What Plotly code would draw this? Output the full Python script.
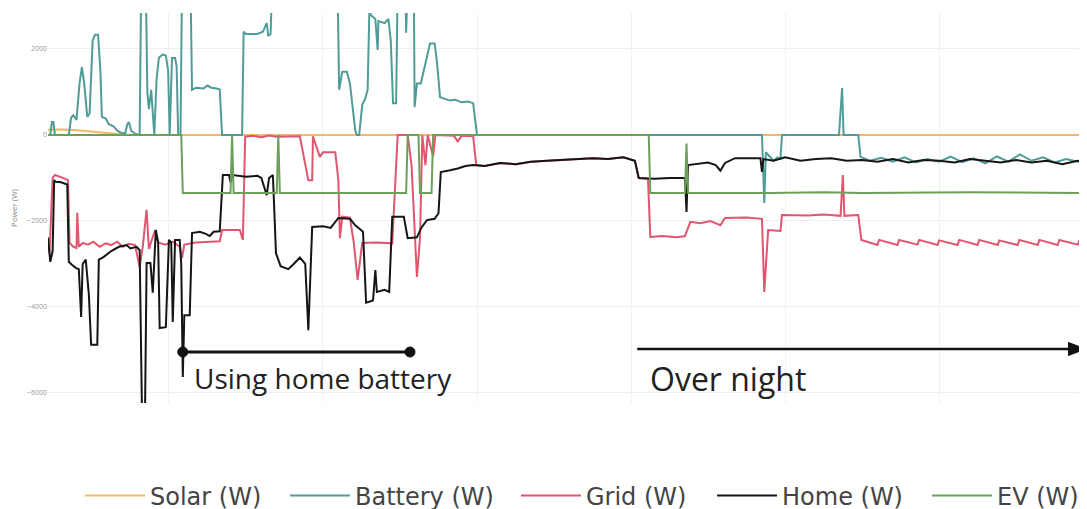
import plotly.graph_objects as go

# hours since midnight (values past 24 are the next morning), power in W
solar_h = [14.43, 14.6, 14.8, 15.0, 15.3, 15.5, 27.92]
solar_w = [120, 130, 110, 80, 30, 0, 0]

battery_h = [14.43, 14.46, 14.48, 14.50, 14.52, 14.70, 14.73, 14.76, 14.80, 14.84, 14.87, 14.90,
             14.94, 14.97, 15.01, 15.04, 15.08, 15.11, 15.13, 15.18, 15.22, 15.28, 15.33, 15.38,
             15.43, 15.46, 15.48, 15.51, 15.56, 15.62, 15.64, 15.70, 15.72, 15.74, 15.77, 15.81,
             15.84, 15.87, 15.92, 15.96, 15.99, 16.01, 16.04, 16.08, 16.10, 16.12, 16.15, 16.17,
             16.28, 16.30, 16.35, 16.45, 16.50, 16.55, 16.62, 16.66, 16.69, 16.95, 16.97, 17.00,
             17.15, 17.22, 17.27, 17.29, 17.32, 17.34, 18.19, 18.21, 18.25, 18.31, 18.35, 18.42,
             18.44, 18.47, 18.51, 18.55, 18.58, 18.61, 18.62, 18.68, 18.71, 18.72, 18.80, 18.85,
             18.88, 18.91, 18.95, 18.97, 19.07, 19.08, 19.10, 19.18, 19.19, 19.22, 19.27, 19.33,
             19.39, 19.45, 19.48, 19.52, 19.56, 19.65, 19.72, 19.80, 19.88, 19.95, 20.0, 23.70,
             23.73, 23.75, 23.80, 23.85, 23.90, 23.94, 23.96, 24.70, 24.74, 24.76, 24.95, 24.98,
             25.1, 25.25, 25.4, 25.55, 25.7, 25.85, 26.0, 26.15, 26.3, 26.45, 26.6, 26.75, 26.9,
             27.05, 27.2, 27.35, 27.5, 27.65, 27.8, 27.92]
battery_w = [0, 0, 300, 300, 0, 0, 400, 460, 350, 1210, 1580, 1200,
             420, 500, 2200, 2330, 2330, 1500, 420, 380, 250, 200, 100, 50,
             30, 250, 300, 100, 30, 0, 3500, 3500, 1000, 600, 1050, 0,
             1300, 1800, 1870, 1850, 1500, 0, 1790, 1790, 1600, 0, 0, 3500,
             3500, 1050, 1100, 1080, 1150, 1100, 1080, 1060, 0, 0, 2400, 2350,
             2350, 2400, 2600, 2300, 2350, 3500, 3500, 1050, 1470, 1470, 1200, 100,
             0, 0, 700, 850, 1050, 3500, 2790, 2700, 1980, 2650, 2600, 2700,
             2200, 740, 740, 3500, 3500, 2380, 3500, 3500, 650, 1200, 1200, 1650,
             2130, 2130, 1700, 880, 860, 800, 820, 760, 780, 740, 0, 0,
             -1580, -400, -500, -600, -520, -550, 0, 0, 1090, 0, 0, -510,
             -600, -530, -620, -520, -640, -560, -620, -500, -630, -540, -660, -500, -620,
             -450, -600, -520, -640, -560, -620, -600]

home_h = [14.43, 14.46, 14.49, 14.51, 14.53, 14.60, 14.68, 14.70, 14.74, 14.79, 14.83, 14.86,
          14.88, 14.92, 14.96, 14.99, 15.07, 15.09, 15.15, 15.25, 15.35, 15.45, 15.50, 15.58,
          15.62, 15.65, 15.69, 15.71, 15.76, 15.79, 15.83, 15.86, 15.88, 15.96, 16.00, 16.03,
          16.05, 16.08, 16.14, 16.16, 16.18, 16.20, 16.27, 16.30, 16.40, 16.48, 16.53, 16.58,
          16.66, 16.70, 16.78, 16.80, 16.83, 17.00, 17.15, 17.20, 17.27, 17.30, 17.35, 17.39,
          17.45, 17.55, 17.62, 17.70, 17.77, 17.81, 17.86, 18.00, 18.10, 18.20, 18.35, 18.42,
          18.52, 18.56, 18.65, 18.68, 18.70, 18.80, 18.86, 18.90, 19.05, 19.10, 19.22, 19.28,
          19.35, 19.45, 19.50, 19.53, 19.65, 19.75, 19.85, 19.95, 20.1, 20.3, 20.5, 20.7,
          20.9, 21.1, 21.3, 21.5, 21.7, 21.9, 22.05, 22.10, 22.30, 22.5, 22.70, 22.72,
          22.74, 22.85, 23.0, 23.10, 23.16, 23.22, 23.35, 23.55, 23.68, 23.70, 23.72, 23.85,
          24.0, 24.2, 24.4, 24.6, 24.8, 25.0, 25.2, 25.4, 25.6, 25.8, 26.0, 26.2,
          26.4, 26.6, 26.8, 27.0, 27.2, 27.4, 27.6, 27.8, 27.92]
home_w = [-2400, -2950, -2700, -1050, -1090, -1100, -1150, -2950, -3020, -3090, -3120, -4230,
          -3000, -2900, -3700, -4880, -4880, -2900, -2840, -2700, -2600, -2560, -2640, -2600,
          -2680, -6400, -6400, -2980, -2980, -3670, -2210, -2500, -4490, -4470, -2440, -2500,
          -4350, -2440, -2440, -3000, -5630, -4190, -4190, -2280, -2250, -2300, -2350, -2250,
          -2240, -930, -930, -1100, -930, -970, -950, -1000, -1400, -1000, -930, -2750,
          -3050, -3120, -3000, -2850, -3000, -4540, -2140, -2120, -2160, -1930, -1950, -2100,
          -2250, -3900, -3850, -3140, -3650, -3600, -3650, -1900, -1900, -2400, -2380, -2150,
          -1980, -1950, -1820, -860, -820, -780, -720, -700, -720, -650, -680, -620,
          -600, -580, -560, -540, -560, -520, -600, -1000, -1020, -1000, -1000, -1790,
          -700, -680, -640, -700, -830, -650, -540, -540, -540, -860, -560, -600,
          -520, -600, -560, -540, -600, -580, -620, -560, -640, -580, -600, -640,
          -560, -600, -640, -580, -640, -600, -680, -600, -620]

grid_h = [14.43, 14.45, 14.49, 14.52, 14.60, 14.69, 14.71, 14.76, 14.80, 14.81, 14.83, 14.88,
          14.95, 15.02, 15.10, 15.18, 15.25, 15.33, 15.40, 15.48, 15.56, 15.62, 15.66, 15.71,
          15.74, 15.82, 15.86, 15.95, 16.05, 16.14, 16.17, 16.20, 16.35, 16.50, 16.66, 16.69,
          16.92, 16.96, 16.99, 17.10, 17.20, 17.30, 17.40, 17.70, 17.81, 17.86, 17.87, 17.96,
          18.00, 18.16, 18.20, 18.22, 18.25, 18.35, 18.40, 18.45, 18.51, 18.70, 18.90, 18.97,
          19.10, 19.15, 19.20, 19.22, 19.26, 19.29, 19.33, 19.36, 19.43, 19.46, 19.70, 19.75,
          19.80, 19.95, 19.99, 20.1, 20.3, 20.5, 20.7, 20.9, 21.1, 21.3, 21.5, 21.7,
          21.9, 22.05, 22.10, 22.22, 22.25, 22.40, 22.60, 22.70, 22.73, 22.77, 22.90, 23.03,
          23.16, 23.22, 23.50, 23.70, 23.73, 23.78, 23.94, 23.96, 24.30, 24.50, 24.72, 24.75,
          24.77, 24.95, 24.99, 25.20, 25.22, 25.46, 25.48, 25.72, 25.74, 25.98, 26.00, 26.24,
          26.26, 26.50, 26.52, 26.76, 26.78, 27.02, 27.04, 27.28, 27.30, 27.54, 27.56, 27.80,
          27.82, 27.92]
grid_w = [-2370, -2750, -1000, -930, -980, -1050, -2510, -2600, -2630, -1810, -2600, -2510,
          -2550, -2480, -2600, -2520, -2560, -2480, -2600, -2530, -2560, -3070, -2600, -1740,
          -2650, -2210, -2500, -2550, -2480, -2600, -2860, -2550, -2500, -2480, -2470, -2210,
          -2210, -2440, -40, -20, -50, -10, -40, -30, -1050, -1050, -30, -510,
          -400, -400, -1050, -2400, -1900, -1920, -2500, -3370, -2510, -2500, -2520, 0,
          0, -700, -2400, -3300, -2400, 0, -700, 0, -500, 0, -20, -150,
          -20, -30, -700, -720, -650, -680, -620, -600, -580, -560, -540, -560,
          -520, -600, -1000, -1020, -2370, -2350, -2380, -2350, -2200, -2020, -2050, -2000,
          -2100, -1930, -1920, -1950, -3650, -2210, -2230, -1860, -1870, -1850, -1880, -930,
          -1880, -1860, -2440, -2560, -2440, -2560, -2440, -2550, -2440, -2560, -2450, -2560,
          -2440, -2560, -2440, -2560, -2450, -2560, -2440, -2560, -2440, -2560, -2440, -2550,
          -2460, -2500]

ev_h = [14.43, 16.16, 16.18, 16.80, 16.82, 16.84, 17.40, 17.42, 17.44, 19.08, 19.10, 19.24,
        19.26, 19.41, 19.43, 22.23, 22.25, 22.70, 22.72, 22.74, 23.8, 24.5, 25.0, 26.4, 27.92]
ev_w = [0, 0, -1350, -1350, 0, -1350, -1350, 0, -1350, -1350, 0, 0,
        -1350, -1350, 0, 0, -1350, -1350, -200, -1350, -1350, -1330, -1350, -1330, -1350]

series = [
    ("Solar (W)", solar_h, solar_w, "#F5B867"),
    ("Battery (W)", battery_h, battery_w, "#4F9C98"),
    ("Grid (W)", grid_h, grid_w, "#E0566E"),
    ("Home (W)", home_h, home_w, "#151515"),
    ("EV (W)", ev_h, ev_w, "#6BA05A"),
]

# one single-entry legend per trace so the row is spaced like the original
legend_x = [0.0308, 0.2281, 0.4504, 0.6391, 0.8460]

fig = go.Figure()
layout_legends = {}
for i, (name, xs, ys, color) in enumerate(series):
    key = "legend" if i == 0 else "legend%d" % (i + 1)
    fig.add_trace(go.Scatter(x=xs, y=ys, name=name, mode="lines", legend=key,
                             line=dict(color=color, width=2)))
    layout_legends[key] = dict(
        orientation="h", x=legend_x[i], y=-0.2385, xanchor="left", yanchor="middle",
        itemwidth=60, bgcolor="rgba(0,0,0,0)",
        font=dict(family="DejaVu Sans", size=24, color="#444"))

# the page body adds an 8px margin, so the figure is laid out 8px up/left
fig.update_layout(
    width=1087, height=530,
    margin=dict(l=40, r=8, t=5, b=135),
    plot_bgcolor="white", paper_bgcolor="white",
    showlegend=True,
    xaxis=dict(range=[14.43, 27.92], dtick=2, tick0=0, showticklabels=False,
               showgrid=True, gridcolor="#F1F1F1", zeroline=False, showline=False),
    yaxis=dict(range=[-6233, 2837], dtick=2000, showgrid=True, gridcolor="#EEEEEE",
               zeroline=False, showline=False, automargin=False,
               tickfont=dict(family="Open Sans", size=7, color="#999"),
               title=dict(text="Power (W)", standoff=12,
                          font=dict(family="Open Sans", size=8, color="#888"))),
    **layout_legends,
)

# bracket for the home battery period
y_bracket = -5047
fig.add_shape(type="line", x0=16.18, x1=19.13, y0=y_bracket, y1=y_bracket,
              line=dict(color="#111", width=3))
for xc in (16.18, 19.13):
    fig.add_shape(type="circle", xsizemode="pixel", ysizemode="pixel",
                  xanchor=xc, yanchor=y_bracket, x0=-5, x1=5, y0=-5, y1=5,
                  fillcolor="#111", line=dict(color="#111", width=1))

# over-night arrow
y_arrow = -4977
fig.add_shape(type="line", x0=22.08, x1=27.75, y0=y_arrow, y1=y_arrow,
              line=dict(color="#111", width=2.5))
fig.add_shape(type="path", xsizemode="pixel", ysizemode="pixel",
              xanchor=27.9, yanchor=y_arrow, path="M0,0 L-17,-6.5 L-17,6.5 Z",
              fillcolor="#111", line=dict(color="#111", width=1))

fig.add_annotation(x=16.30, y=-5652, text="Using home battery", showarrow=False,
                   xanchor="left", yanchor="middle",
                   font=dict(family="Open Sans", size=28, color="#222"))
fig.add_annotation(x=22.22, y=-5652, text="Over night", showarrow=False,
                   xanchor="left", yanchor="middle",
                   font=dict(family="Open Sans", size=32, color="#222"))

fig.write_html("out.html")
